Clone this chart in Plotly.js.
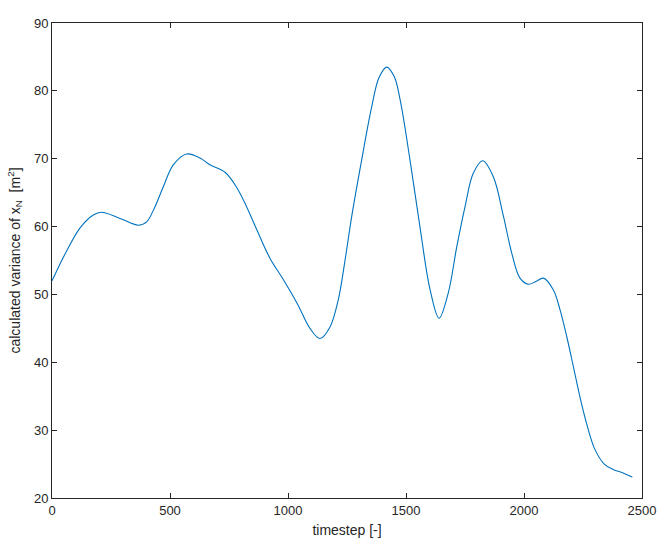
<!DOCTYPE html>
<html>
<head>
<meta charset="utf-8">
<script src="https://cdn.plot.ly/plotly-3.0.1.min.js"></script>
<style>html,body{margin:0;padding:0;background:#fff;}#plot{width:664px;height:549px;}</style>
</head>
<body>
<div id="plot"></div>
<script>
const timestep = [0, 30, 62, 119, 175, 210, 288, 366, 401, 436, 472, 514, 571, 627, 669, 733, 782, 825, 867, 924, 980, 1040, 1093, 1136, 1178, 1213, 1242, 1270, 1312, 1355, 1385, 1418, 1450, 1475, 1517, 1559, 1602, 1640, 1679, 1715, 1750, 1785, 1825, 1870, 1913, 1948, 1983, 2018, 2050, 2082, 2124, 2153, 2181, 2209, 2237, 2265, 2300, 2340, 2378, 2420, 2459];
const variance = [52.0, 54.2, 56.4, 59.8, 61.7, 62.1, 61.2, 60.2, 60.7, 62.9, 65.9, 69.1, 70.7, 70.1, 69.1, 68.0, 65.8, 62.9, 59.6, 55.3, 52.2, 48.6, 45.0, 43.5, 45.2, 49.2, 55.1, 61.5, 69.8, 77.7, 81.9, 83.5, 82.1, 78.7, 69.8, 60.0, 50.7, 46.5, 50.2, 57.0, 62.9, 67.85, 69.7, 67.35, 61.5, 56.1, 52.4, 51.5, 51.9, 52.4, 50.7, 47.7, 43.8, 39.4, 34.9, 31.0, 27.2, 25.0, 24.2, 23.7, 23.1];
const xTicks = [0, 500, 1000, 1500, 2000, 2500];
const yTicks = [20, 30, 40, 50, 60, 70, 80, 90];

const axisColor = '#262626';
const fontFam = 'Liberation Sans, Arial, Helvetica, sans-serif';

Plotly.newPlot('plot', [{
  x: timestep,
  y: variance,
  type: 'scatter',
  mode: 'lines',
  line: {color: '#0072BD', width: 1.1, shape: 'spline', smoothing: 1},
  hoverinfo: 'skip'
}], {
  width: 664,
  height: 549,
  margin: {l: 52, r: 22, t: 23, b: 51},
  paper_bgcolor: '#ffffff',
  plot_bgcolor: '#ffffff',
  showlegend: false,
  font: {family: fontFam, color: axisColor, size: 13},
  xaxis: {
    range: [0, 2500],
    tickvals: xTicks,
    ticktext: xTicks.map(String),
    ticks: 'inside',
    ticklen: 5,
    tickcolor: axisColor,
    showline: true,
    linecolor: axisColor,
    linewidth: 1,
    mirror: 'ticks',
    showgrid: false,
    zeroline: false,
    tickfont: {size: 13, color: axisColor},
    title: {text: 'timestep [-]', font: {size: 14, color: axisColor}, standoff: 8}
  },
  yaxis: {
    range: [20, 90],
    tickvals: yTicks,
    ticktext: yTicks.map(String),
    ticks: 'inside',
    ticklen: 5,
    tickcolor: axisColor,
    showline: true,
    linecolor: axisColor,
    linewidth: 1,
    mirror: 'ticks',
    showgrid: false,
    zeroline: false,
    tickfont: {size: 13, color: axisColor},
    title: {text: 'calculated variance of x<sub>N</sub>  [m<sup>2</sup>]', font: {size: 14, color: axisColor}, standoff: 10}
  }
}, {displayModeBar: false, staticPlot: true});
</script>
</body>
</html>
